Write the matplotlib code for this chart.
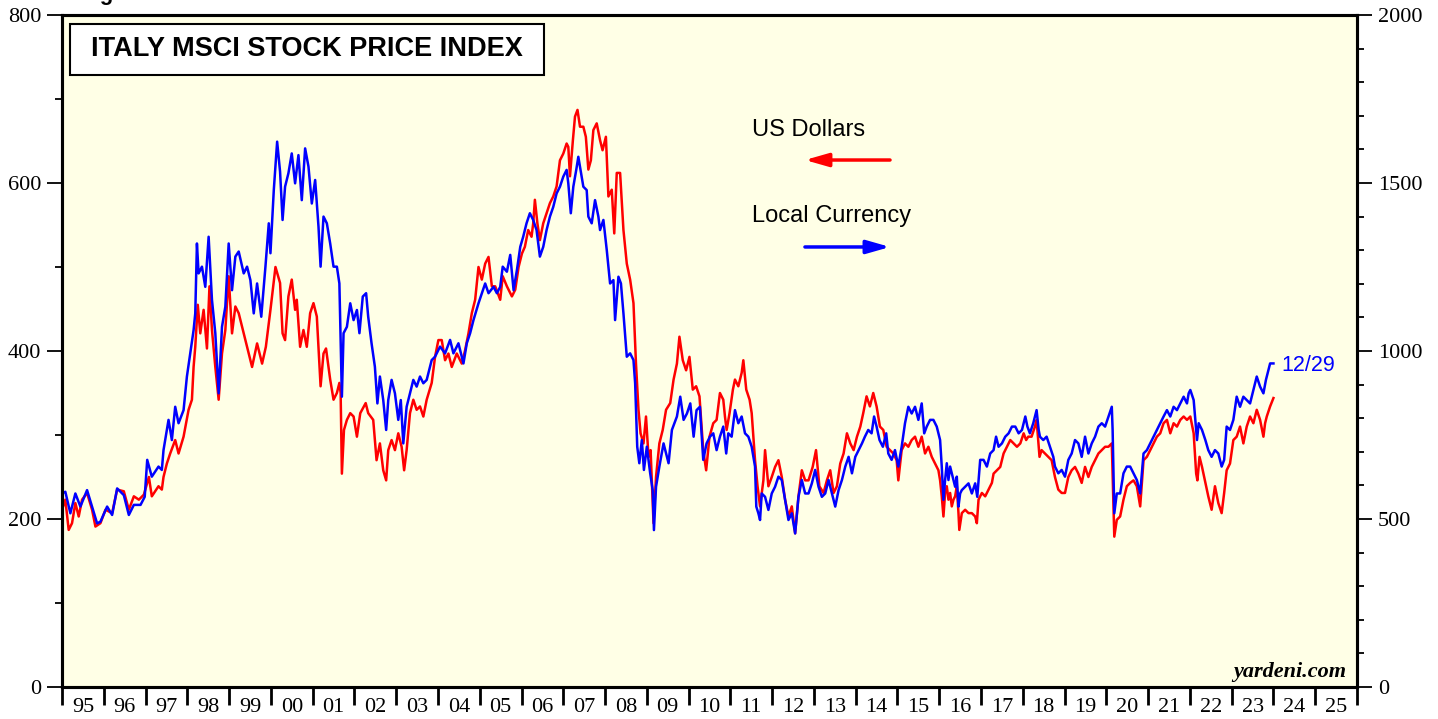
import matplotlib

matplotlib.use("Agg")
import matplotlib.pyplot as plt  # noqa: E402
from matplotlib.patches import Rectangle  # noqa: E402

plt.rcParams["font.family"] = ["Liberation Serif", "DejaVu Serif"]

BG = "#ffffe6"
RED = "#ff0000"
BLUE = "#0000ff"

# Italy MSCI price index in US dollars (left axis).
usd_points = [
    (1995.00, 211), (1995.08, 223), (1995.16, 187), (1995.24, 195), (1995.32, 219),
    (1995.40, 203), (1995.48, 223), (1995.60, 231), (1995.72, 211), (1995.80, 191),
    (1995.92, 195), (1996.04, 211), (1996.20, 207), (1996.32, 235), (1996.48, 233),
    (1996.60, 211), (1996.72, 227), (1996.84, 223), (1996.96, 229), (1997.08, 250),
    (1997.15, 227), (1997.31, 239), (1997.39, 235), (1997.43, 250), (1997.51, 266),
    (1997.59, 278), (1997.71, 294), (1997.79, 278), (1997.91, 298), (1998.03, 330),
    (1998.11, 342), (1998.15, 381), (1998.19, 405), (1998.25, 455), (1998.31, 421),
    (1998.39, 449), (1998.47, 403), (1998.53, 477), (1998.59, 425), (1998.67, 381),
    (1998.75, 342), (1998.83, 397), (1998.91, 425), (1998.99, 489), (1999.07, 421),
    (1999.15, 453), (1999.23, 445), (1999.35, 421), (1999.43, 405), (1999.55, 381),
    (1999.67, 409), (1999.79, 385), (1999.88, 405), (1999.99, 449), (2000.11, 500),
    (2000.22, 481), (2000.28, 421), (2000.34, 413), (2000.42, 465), (2000.50, 485),
    (2000.58, 449), (2000.62, 461), (2000.70, 405), (2000.78, 425), (2000.86, 405),
    (2000.94, 445), (2001.02, 457), (2001.10, 441), (2001.14, 405), (2001.19, 358),
    (2001.26, 397), (2001.32, 403), (2001.42, 366), (2001.50, 342), (2001.58, 350),
    (2001.64, 362), (2001.67, 350), (2001.70, 254), (2001.75, 306), (2001.82, 318),
    (2001.90, 326), (2001.98, 322), (2002.06, 298), (2002.14, 326), (2002.27, 338),
    (2002.33, 326), (2002.45, 318), (2002.53, 270), (2002.61, 290), (2002.69, 258),
    (2002.76, 246), (2002.81, 282), (2002.89, 294), (2002.97, 282), (2003.05, 302),
    (2003.13, 286), (2003.19, 258), (2003.25, 282), (2003.33, 326), (2003.41, 342),
    (2003.49, 330), (2003.57, 334), (2003.65, 322), (2003.73, 342), (2003.85, 362),
    (2003.93, 393), (2004.01, 413), (2004.09, 413), (2004.17, 389), (2004.25, 397),
    (2004.33, 381), (2004.45, 397), (2004.57, 385), (2004.65, 401), (2004.73, 421),
    (2004.81, 445), (2004.89, 461), (2004.97, 500), (2005.05, 485), (2005.13, 504),
    (2005.21, 512), (2005.29, 477), (2005.37, 477), (2005.49, 461), (2005.55, 489),
    (2005.65, 477), (2005.77, 465), (2005.85, 473), (2005.93, 500), (2006.01, 516),
    (2006.08, 524), (2006.16, 544), (2006.24, 536), (2006.28, 552), (2006.32, 580),
    (2006.38, 552), (2006.44, 532), (2006.52, 552), (2006.60, 564), (2006.68, 576),
    (2006.76, 584), (2006.84, 596), (2006.92, 627), (2007.00, 635), (2007.08, 647),
    (2007.12, 643), (2007.16, 608), (2007.23, 651), (2007.28, 679), (2007.34, 687),
    (2007.40, 667), (2007.48, 667), (2007.54, 655), (2007.60, 616), (2007.66, 627),
    (2007.72, 663), (2007.80, 671), (2007.88, 651), (2007.94, 639), (2008.02, 655),
    (2008.08, 584), (2008.16, 592), (2008.22, 540), (2008.28, 612), (2008.36, 612),
    (2008.44, 544), (2008.52, 504), (2008.60, 485), (2008.68, 457), (2008.74, 385),
    (2008.80, 330), (2008.85, 302), (2008.92, 290), (2008.98, 322), (2009.04, 274),
    (2009.09, 282), (2009.16, 195), (2009.22, 250), (2009.30, 290), (2009.38, 306),
    (2009.46, 330), (2009.56, 338), (2009.64, 366), (2009.72, 385), (2009.78, 417),
    (2009.86, 389), (2009.94, 377), (2010.02, 393), (2010.10, 354), (2010.18, 358),
    (2010.26, 346), (2010.35, 282), (2010.42, 258), (2010.50, 298), (2010.59, 314),
    (2010.67, 318), (2010.75, 350), (2010.83, 342), (2010.87, 322), (2010.91, 306),
    (2010.98, 326), (2011.06, 354), (2011.11, 366), (2011.19, 358), (2011.27, 374),
    (2011.31, 389), (2011.38, 354), (2011.46, 342), (2011.51, 326), (2011.59, 270),
    (2011.65, 239), (2011.71, 215), (2011.79, 246), (2011.83, 282), (2011.91, 239),
    (2011.99, 250), (2012.07, 262), (2012.15, 270), (2012.23, 250), (2012.31, 223),
    (2012.39, 203), (2012.47, 215), (2012.55, 183), (2012.63, 227), (2012.71, 258),
    (2012.79, 246), (2012.87, 246), (2012.97, 262), (2013.05, 282), (2013.13, 239),
    (2013.23, 231), (2013.31, 246), (2013.39, 258), (2013.47, 231), (2013.55, 239),
    (2013.63, 266), (2013.71, 278), (2013.79, 302), (2013.87, 290), (2013.95, 282),
    (2014.03, 298), (2014.11, 310), (2014.18, 326), (2014.26, 346), (2014.34, 334),
    (2014.42, 350), (2014.50, 334), (2014.58, 310), (2014.66, 306), (2014.74, 286),
    (2014.82, 282), (2014.90, 278), (2014.98, 270), (2015.02, 246), (2015.10, 282),
    (2015.18, 290), (2015.26, 286), (2015.34, 294), (2015.42, 298), (2015.50, 286),
    (2015.58, 298), (2015.66, 278), (2015.74, 286), (2015.82, 274), (2015.90, 266),
    (2015.98, 258), (2016.02, 246), (2016.06, 227), (2016.10, 203), (2016.14, 231),
    (2016.18, 239), (2016.22, 223), (2016.26, 231), (2016.30, 215), (2016.34, 223),
    (2016.38, 227), (2016.42, 239), (2016.46, 207), (2016.48, 187), (2016.54, 207),
    (2016.62, 211), (2016.70, 207), (2016.78, 207), (2016.86, 203), (2016.90, 195),
    (2016.94, 223), (2017.02, 231), (2017.10, 227), (2017.18, 235), (2017.26, 243),
    (2017.30, 254), (2017.38, 258), (2017.46, 262), (2017.54, 278), (2017.62, 286),
    (2017.70, 294), (2017.78, 290), (2017.86, 286), (2017.94, 290), (2018.02, 302),
    (2018.08, 294), (2018.13, 298), (2018.21, 298), (2018.29, 310), (2018.33, 318),
    (2018.40, 274), (2018.45, 282), (2018.53, 278), (2018.61, 274), (2018.69, 270),
    (2018.77, 250), (2018.85, 235), (2018.93, 231), (2019.01, 231), (2019.09, 250),
    (2019.17, 258), (2019.25, 262), (2019.33, 254), (2019.41, 243), (2019.49, 262),
    (2019.57, 250), (2019.65, 262), (2019.73, 270), (2019.81, 278), (2019.89, 282),
    (2019.97, 286), (2020.05, 286), (2020.13, 290), (2020.15, 254), (2020.19, 179),
    (2020.25, 199), (2020.33, 203), (2020.41, 223), (2020.49, 239), (2020.57, 243),
    (2020.65, 246), (2020.73, 239), (2020.81, 215), (2020.89, 270), (2020.97, 274),
    (2021.05, 282), (2021.13, 290), (2021.21, 298), (2021.29, 302), (2021.37, 314),
    (2021.45, 318), (2021.53, 302), (2021.61, 314), (2021.69, 310), (2021.77, 318),
    (2021.85, 322), (2021.93, 318), (2022.01, 322), (2022.09, 302), (2022.15, 254),
    (2022.18, 246), (2022.23, 274), (2022.29, 262), (2022.37, 243), (2022.44, 227),
    (2022.52, 211), (2022.60, 239), (2022.68, 219), (2022.76, 207), (2022.82, 231),
    (2022.88, 258), (2022.96, 266), (2023.04, 294), (2023.12, 298), (2023.20, 310),
    (2023.28, 290), (2023.36, 310), (2023.44, 322), (2023.52, 314), (2023.60, 330),
    (2023.68, 318), (2023.76, 298), (2023.80, 314), (2023.84, 322), (2023.92, 334),
    (2024.00, 344),
]

# Same index in local currency (right axis).
lc_points = [
    (1995.00, 576), (1995.08, 581), (1995.20, 517), (1995.32, 576), (1995.44, 537),
    (1995.60, 586), (1995.72, 537), (1995.84, 487), (1995.92, 492), (1996.08, 537),
    (1996.20, 512), (1996.32, 591), (1996.48, 571), (1996.60, 512), (1996.72, 542),
    (1996.88, 542), (1996.98, 566), (1997.04, 676), (1997.15, 626), (1997.31, 656),
    (1997.39, 646), (1997.43, 705), (1997.55, 795), (1997.63, 735), (1997.71, 834),
    (1997.79, 785), (1997.91, 824), (1997.99, 924), (1998.07, 993), (1998.15, 1062),
    (1998.19, 1112), (1998.23, 1320), (1998.27, 1231), (1998.35, 1251), (1998.43, 1191),
    (1998.51, 1340), (1998.59, 1152), (1998.67, 1053), (1998.75, 874), (1998.83, 1072),
    (1998.91, 1132), (1998.99, 1320), (1999.07, 1181), (1999.15, 1281), (1999.23, 1296),
    (1999.35, 1231), (1999.43, 1251), (1999.51, 1211), (1999.59, 1112), (1999.67, 1201),
    (1999.77, 1102), (1999.87, 1251), (1999.95, 1380), (1999.99, 1291), (2000.07, 1479),
    (2000.15, 1623), (2000.22, 1534), (2000.28, 1390), (2000.34, 1489), (2000.42, 1529),
    (2000.50, 1588), (2000.58, 1499), (2000.66, 1583), (2000.74, 1449), (2000.82, 1603),
    (2000.90, 1549), (2000.98, 1439), (2001.06, 1509), (2001.14, 1370), (2001.19, 1251),
    (2001.26, 1400), (2001.34, 1380), (2001.42, 1320), (2001.50, 1251), (2001.58, 1251),
    (2001.64, 1201), (2001.70, 864), (2001.74, 1053), (2001.82, 1072), (2001.90, 1142),
    (2001.98, 1092), (2002.06, 1122), (2002.12, 1053), (2002.20, 1162), (2002.28, 1172),
    (2002.33, 1102), (2002.41, 1023), (2002.49, 953), (2002.55, 844), (2002.61, 924),
    (2002.69, 854), (2002.76, 765), (2002.81, 854), (2002.89, 914), (2002.97, 874),
    (2003.05, 795), (2003.11, 854), (2003.17, 725), (2003.25, 834), (2003.33, 874),
    (2003.41, 914), (2003.49, 894), (2003.57, 924), (2003.65, 904), (2003.73, 914),
    (2003.85, 973), (2003.93, 983), (2004.05, 1013), (2004.17, 993), (2004.29, 1033),
    (2004.37, 993), (2004.49, 1023), (2004.61, 963), (2004.69, 1023), (2004.77, 1053),
    (2004.85, 1092), (2004.97, 1142), (2005.05, 1172), (2005.13, 1201), (2005.21, 1172),
    (2005.33, 1191), (2005.41, 1172), (2005.49, 1191), (2005.55, 1251), (2005.65, 1236),
    (2005.73, 1286), (2005.81, 1181), (2005.89, 1241), (2005.97, 1310), (2006.04, 1340),
    (2006.12, 1380), (2006.20, 1410), (2006.28, 1390), (2006.36, 1360), (2006.44, 1281),
    (2006.52, 1310), (2006.60, 1360), (2006.68, 1400), (2006.76, 1429), (2006.84, 1469),
    (2006.92, 1489), (2007.00, 1519), (2007.08, 1539), (2007.12, 1499), (2007.18, 1410),
    (2007.24, 1489), (2007.31, 1539), (2007.36, 1578), (2007.40, 1548), (2007.48, 1489),
    (2007.56, 1479), (2007.60, 1400), (2007.68, 1380), (2007.76, 1449), (2007.84, 1400),
    (2007.88, 1360), (2007.96, 1390), (2008.04, 1301), (2008.12, 1201), (2008.20, 1211),
    (2008.24, 1092), (2008.32, 1221), (2008.38, 1201), (2008.44, 1112), (2008.52, 983),
    (2008.60, 993), (2008.68, 973), (2008.72, 904), (2008.77, 715), (2008.82, 666),
    (2008.88, 735), (2008.93, 646), (2009.00, 715), (2009.08, 636), (2009.14, 586),
    (2009.17, 467), (2009.22, 596), (2009.30, 656), (2009.40, 725), (2009.52, 666),
    (2009.60, 765), (2009.72, 805), (2009.80, 864), (2009.88, 795), (2009.96, 814),
    (2010.04, 844), (2010.12, 745), (2010.19, 824), (2010.27, 834), (2010.35, 676),
    (2010.43, 725), (2010.51, 745), (2010.59, 755), (2010.67, 705), (2010.75, 745),
    (2010.83, 775), (2010.90, 695), (2010.95, 755), (2011.03, 745), (2011.11, 824),
    (2011.19, 785), (2011.27, 805), (2011.35, 755), (2011.43, 745), (2011.51, 715),
    (2011.59, 656), (2011.62, 537), (2011.67, 517), (2011.71, 497), (2011.75, 576),
    (2011.83, 566), (2011.91, 527), (2011.99, 576), (2012.07, 596), (2012.15, 626),
    (2012.23, 616), (2012.31, 557), (2012.39, 497), (2012.47, 517), (2012.55, 457),
    (2012.63, 566), (2012.71, 616), (2012.79, 576), (2012.87, 576), (2012.95, 606),
    (2013.03, 646), (2013.11, 596), (2013.19, 566), (2013.27, 576), (2013.35, 616),
    (2013.43, 576), (2013.51, 537), (2013.59, 586), (2013.67, 616), (2013.75, 656),
    (2013.83, 685), (2013.91, 636), (2013.99, 685), (2014.07, 705), (2014.15, 725),
    (2014.22, 745), (2014.30, 765), (2014.38, 755), (2014.44, 805), (2014.50, 775),
    (2014.57, 735), (2014.65, 715), (2014.73, 755), (2014.78, 695), (2014.86, 676),
    (2014.94, 705), (2015.02, 656), (2015.10, 715), (2015.18, 785), (2015.26, 834),
    (2015.34, 814), (2015.42, 834), (2015.50, 795), (2015.58, 844), (2015.64, 755),
    (2015.70, 775), (2015.78, 795), (2015.86, 795), (2015.94, 775), (2016.02, 735),
    (2016.06, 656), (2016.10, 557), (2016.14, 616), (2016.18, 666), (2016.22, 616),
    (2016.26, 656), (2016.30, 636), (2016.34, 616), (2016.38, 596), (2016.42, 626),
    (2016.46, 537), (2016.50, 576), (2016.54, 586), (2016.62, 596), (2016.70, 606),
    (2016.78, 576), (2016.86, 606), (2016.91, 566), (2016.98, 676), (2017.06, 676),
    (2017.14, 656), (2017.22, 695), (2017.30, 705), (2017.36, 745), (2017.42, 715),
    (2017.50, 725), (2017.58, 745), (2017.66, 755), (2017.74, 775), (2017.82, 775),
    (2017.90, 755), (2017.98, 765), (2018.06, 805), (2018.11, 775), (2018.17, 755),
    (2018.25, 785), (2018.33, 824), (2018.38, 765), (2018.41, 745), (2018.49, 735),
    (2018.57, 745), (2018.65, 715), (2018.73, 685), (2018.77, 656), (2018.85, 636),
    (2018.93, 646), (2019.01, 626), (2019.09, 676), (2019.17, 695), (2019.25, 735),
    (2019.33, 725), (2019.41, 685), (2019.49, 745), (2019.57, 695), (2019.65, 725),
    (2019.73, 745), (2019.81, 775), (2019.89, 785), (2019.97, 775), (2020.05, 805),
    (2020.13, 834), (2020.15, 765), (2020.19, 517), (2020.25, 576), (2020.33, 576),
    (2020.41, 636), (2020.49, 656), (2020.57, 656), (2020.65, 636), (2020.73, 616),
    (2020.81, 576), (2020.89, 695), (2020.97, 705), (2021.05, 725), (2021.13, 745),
    (2021.21, 765), (2021.29, 785), (2021.37, 805), (2021.45, 824), (2021.53, 805),
    (2021.61, 834), (2021.69, 824), (2021.77, 844), (2021.85, 864), (2021.93, 844),
    (2021.97, 874), (2022.01, 884), (2022.09, 854), (2022.13, 795), (2022.17, 735),
    (2022.21, 785), (2022.29, 765), (2022.37, 735), (2022.44, 705), (2022.52, 685),
    (2022.60, 705), (2022.68, 695), (2022.76, 656), (2022.82, 676), (2022.88, 775),
    (2022.96, 765), (2023.04, 795), (2023.12, 864), (2023.20, 834), (2023.28, 864),
    (2023.36, 854), (2023.44, 844), (2023.52, 884), (2023.60, 924), (2023.68, 894),
    (2023.76, 874), (2023.82, 914), (2023.88, 943), (2023.92, 963), (2024.00, 963),
]

years = list(range(1995, 2026))
year_labels = [f"{y % 100:02d}" for y in years]
left_ticks = [0, 200, 400, 600, 800]
right_ticks = [0, 500, 1000, 1500, 2000]

usd_t, usd = zip(*usd_points)
lc_t, lc = zip(*lc_points)

fig = plt.figure(figsize=(14.38, 7.19), dpi=100)
ax = fig.add_axes([62 / 1438, 32 / 719, 1295 / 1438, 672 / 719])
ax.set_facecolor(BG)
ax2 = ax.twinx()

ax.plot(usd_t, usd, color=RED, lw=1.8)
ax2.plot(lc_t, lc, color=BLUE, lw=1.8)

ax.set_xlim(1995, 2026)
ax.set_ylim(0, 800)
ax2.set_ylim(0, 2000)

for s in ax.spines.values():
    s.set_linewidth(2.2)
for s in ax2.spines.values():
    s.set_linewidth(2.2)

# x axis: year boundary ticks, labels centred in each year
ax.set_xticks(list(range(1995, 2027)))
ax.set_xticklabels([])
ax.set_xticks([y + 0.5 for y in years], minor=True)
ax.set_xticklabels(year_labels, minor=True)
ax.tick_params(axis="x", which="major", direction="out", length=13, width=2)
ax.tick_params(axis="x", which="minor", length=0, labelsize=16, pad=8)

ax.set_yticks(left_ticks)
ax.set_yticks([100, 300, 500, 700], minor=True)
ax.tick_params(axis="y", which="major", direction="out", length=11, width=1.3,
               labelsize=16, pad=4)
ax.tick_params(axis="y", which="minor", direction="out", length=5, width=1.3)

ax2.set_yticks(right_ticks)
ax2.set_yticks([v for v in range(100, 2000, 100) if v % 500], minor=True)
ax2.tick_params(axis="y", which="major", direction="out", length=11, width=1.3,
                labelsize=16, pad=4)
ax2.tick_params(axis="y", which="minor", direction="out", length=5, width=1.3)

# title box
ax2.add_patch(Rectangle((0.0062, 0.9107), 0.366, 0.0759, transform=ax2.transAxes,
                        facecolor="white", edgecolor="black", lw=1.5, zorder=5))
ax2.text(0.189, 0.949, "ITALY MSCI STOCK PRICE INDEX", transform=ax2.transAxes,
         ha="center", va="center", fontsize=19.5, fontweight="bold",
         family="Liberation Sans", zorder=6)

# series labels with arrows pointing at their axes
ax2.text(0.5328, 0.8289, "US Dollars", transform=ax2.transAxes, ha="left",
         va="center", fontsize=17, family="Liberation Sans")
ax2.annotate("", xy=(0.5737, 0.7842), xytext=(0.6394, 0.7842),
             xycoords="axes fraction", textcoords="axes fraction",
             arrowprops=dict(arrowstyle="-|>,head_length=0.7,head_width=0.2",
                             color=RED, lw=2.5, mutation_scale=20,
                             shrinkA=0, shrinkB=0))
ax2.text(0.5328, 0.7009, "Local Currency", transform=ax2.transAxes, ha="left",
         va="center", fontsize=17, family="Liberation Sans")
ax2.annotate("", xy=(0.6394, 0.6548), xytext=(0.5737, 0.6548),
             xycoords="axes fraction", textcoords="axes fraction",
             arrowprops=dict(arrowstyle="-|>,head_length=0.7,head_width=0.2",
                             color=BLUE, lw=2.5, mutation_scale=20,
                             shrinkA=0, shrinkB=0))

ax2.text(0.9413, 0.479, "12/29", transform=ax2.transAxes, ha="left", va="center",
         fontsize=15.5, color=BLUE, family="Liberation Sans")
ax2.text(0.9915, 0.0223, "yardeni.com", transform=ax2.transAxes, ha="right",
         va="center", fontsize=16, fontweight="bold", style="italic")

# header line above the frame; only its descender shows, as in the source
fig.text(80 / 1438, 1.0, "Figure", fontsize=16, fontweight="bold",
         family="Liberation Sans", va="baseline")

fig.savefig("out.png", dpi=100, facecolor="white")
